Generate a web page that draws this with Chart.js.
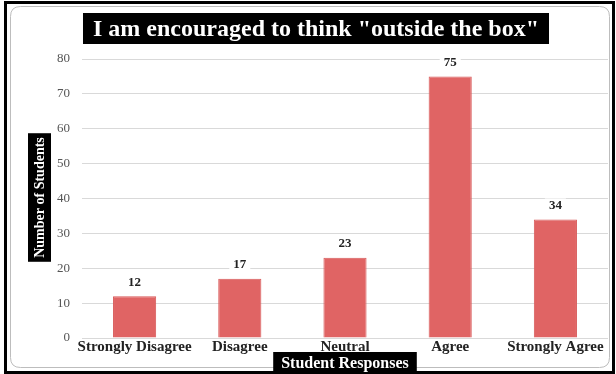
<!DOCTYPE html>
<html>
<head>
<meta charset="utf-8">
<script src="https://cdn.jsdelivr.net/npm/chart.js@4/dist/chart.umd.min.js"></script>
<style>
  html, body { margin: 0; padding: 0; background: #fff; }
  #wrap { width: 616px; height: 374px; position: relative; }
</style>
</head>
<body>
<div id="wrap"><canvas id="responseChart" width="616" height="374"></canvas></div>
<script>
// chart values
var categories = ['Strongly Disagree', 'Disagree', 'Neutral', 'Agree', 'Strongly Agree'];
var studentCounts = [12, 17, 23, 75, 34];
var yTicks = [0, 10, 20, 30, 40, 50, 60, 70, 80];

var titleText = 'I am encouraged to think "outside the box"';
var xTitleText = 'Student Responses';
var yTitleText = 'Number of Students';

var serif = '"Liberation Serif", "DejaVu Serif", serif';

function roundRect(ctx, x, y, w, h, r) {
    ctx.beginPath();
    ctx.moveTo(x + r, y);
    ctx.lineTo(x + w - r, y);
    ctx.quadraticCurveTo(x + w, y, x + w, y + r);
    ctx.lineTo(x + w, y + h - r);
    ctx.quadraticCurveTo(x + w, y + h, x + w - r, y + h);
    ctx.lineTo(x + r, y + h);
    ctx.quadraticCurveTo(x, y + h, x, y + h - r);
    ctx.lineTo(x, y + r);
    ctx.quadraticCurveTo(x, y, x + r, y);
    ctx.closePath();
}

function blackLabel(ctx, text, font, cx, cy, padX, h) {
    ctx.font = font;
    var w = ctx.measureText(text).width + padX * 2;
    ctx.fillStyle = '#000';
    ctx.fillRect(cx - w / 2, cy - h / 2, w, h);
    ctx.fillStyle = '#fff';
    ctx.textAlign = 'center';
    ctx.textBaseline = 'middle';
    ctx.fillText(text, cx, cy + 1);
}

var framePlugin = {
    id: 'frame',
    beforeDraw: function (chart) {
        var ctx = chart.ctx;
        ctx.save();
        ctx.fillStyle = '#fff';
        ctx.fillRect(0, 0, chart.width, chart.height);
        ctx.strokeStyle = '#000';
        ctx.lineWidth = 3;
        ctx.strokeRect(5.5, 2.5, chart.width - 8, chart.height - 4);
        ctx.strokeStyle = '#bdbdbd';
        ctx.lineWidth = 1;
        roundRect(ctx, 10.5, 6.5, 599, 361, 10);
        ctx.stroke();
        ctx.restore();
    },
    afterDraw: function (chart) {
        var ctx = chart.ctx;
        ctx.save();
        blackLabel(ctx, titleText, 'bold 24px ' + serif, 316, 28.5, 10, 31);
        blackLabel(ctx, xTitleText, 'bold 16px ' + serif, 345, 363, 8, 22);
        ctx.translate(39.5, 197.5);
        ctx.rotate(-Math.PI / 2);
        blackLabel(ctx, yTitleText, 'bold 14px ' + serif, 0, 0, 4, 23);
        ctx.restore();

        // value labels above bars, on a white patch over the grid
        var meta = chart.getDatasetMeta(0);
        ctx.save();
        ctx.font = 'bold 13px ' + serif;
        ctx.textAlign = 'center';
        ctx.textBaseline = 'middle';
        meta.data.forEach(function (bar, i) {
            var txt = String(studentCounts[i]);
            var w = ctx.measureText(txt).width + 8;
            ctx.fillStyle = '#fff';
            ctx.fillRect(bar.x - w / 2, bar.y - 21, w, 14);
            ctx.fillStyle = '#222';
            ctx.fillText(txt, bar.x, bar.y - 14);
        });
        ctx.restore();
    }
};

var ctx = document.getElementById('responseChart').getContext('2d');
var chart = new Chart(ctx, {
    type: 'bar',
    data: {
        labels: categories,
        datasets: [{
            data: studentCounts,
            backgroundColor: '#e06464',
            borderColor: '#d85a5a',
            borderWidth: 1,
            barPercentage: 0.41,
            categoryPercentage: 1
        }]
    },
    options: {
        responsive: false,
        animation: false,
        layout: { padding: { top: 59, right: 8, left: 0, bottom: 0 } },
        plugins: {
            legend: { display: false },
            tooltip: { enabled: false }
        },
        scales: {
            x: {
                grid: { display: false },
                border: { display: false },
                ticks: {
                    color: '#222',
                    padding: -8,
                    autoSkip: false,
                    maxRotation: 0,
                    minRotation: 0,
                    font: { family: serif, size: 15, weight: 'bold' }
                },
                afterFit: function (scale) { scale.height = 36; }
            },
            y: {
                min: 0,
                max: 80,
                afterBuildTicks: function (scale) {
                    scale.ticks = yTicks.map(function (v) { return { value: v }; });
                },
                grid: { color: '#d9d9d9', drawTicks: false },
                border: { display: false },
                ticks: {
                    color: '#555',
                    padding: 12,
                    font: { family: serif, size: 13 }
                },
                afterFit: function (scale) { scale.width = 82; }
            }
        }
    },
    plugins: [framePlugin]
});
</script>
</body>
</html>
